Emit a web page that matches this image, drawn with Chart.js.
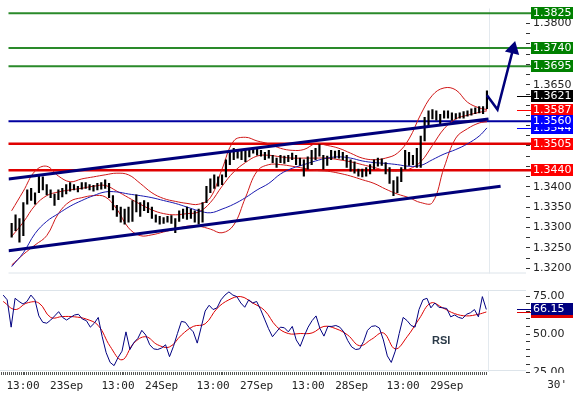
<!DOCTYPE html>
<html>
<head>
<meta charset="utf-8">
<script src="https://cdn.jsdelivr.net/npm/chart.js@4.4.1/dist/chart.umd.min.js"></script>
<style>
  html, body { margin: 0; padding: 0; background: #fff; overflow: hidden; }
  #pricePane { position: absolute; left: 0; top: 0; }
  #rsiPane { position: absolute; left: 0; top: 282px; }
</style>
</head>
<body>
<canvas id="pricePane" width="573" height="282"></canvas>
<canvas id="rsiPane" width="573" height="114"></canvas>
<script>
// EUR/USD 30' : barres, bandes de Bollinger, moyenne mobile, canal et RSI

// heures de cotation depuis le 22 sept. 00:00 (week-end retiré), une barre par heure
const firstHour = 8;
const highs = [
  1.3310, 1.3331, 1.3322, 1.3361, 1.3392, 1.3396, 1.3385, 1.3429, 1.3424, 1.3405,
  1.3392, 1.3382, 1.3392, 1.3396, 1.3405, 1.3410, 1.3405, 1.3401, 1.3410, 1.3410,
  1.3405, 1.3403, 1.3408, 1.3410, 1.3417, 1.3408, 1.3378, 1.3354, 1.3350, 1.3345,
  1.3350, 1.3366, 1.3380, 1.3361, 1.3366, 1.3361, 1.3350, 1.3331, 1.3327, 1.3324,
  1.3327, 1.3329, 1.3322, 1.3341, 1.3345, 1.3350, 1.3345, 1.3341, 1.3345, 1.3361,
  1.3401, 1.3419, 1.3429, 1.3424, 1.3429, 1.3466, 1.3489, 1.3494, 1.3489, 1.3487,
  1.3489, 1.3489, 1.3496, 1.3494, 1.3489, 1.3484, 1.3489, 1.3477, 1.3470, 1.3477,
  1.3475, 1.3477, 1.3482, 1.3477, 1.3470, 1.3466, 1.3473, 1.3489, 1.3494, 1.3503,
  1.3477, 1.3475, 1.3489, 1.3487, 1.3489, 1.3484, 1.3477, 1.3466, 1.3461, 1.3443,
  1.3443, 1.3447, 1.3454, 1.3466, 1.3470, 1.3468, 1.3459, 1.3447, 1.3415, 1.3424,
  1.3447, 1.3489, 1.3484, 1.3477, 1.3494, 1.3524, 1.3570, 1.3586, 1.3589, 1.3586,
  1.3577, 1.3586, 1.3586, 1.3581, 1.3579, 1.3581, 1.3584, 1.3586, 1.3591, 1.3593,
  1.3596, 1.3596, 1.3635
];
const lows = [
  1.3276, 1.3292, 1.3264, 1.3280, 1.3357, 1.3366, 1.3357, 1.3385, 1.3392, 1.3380,
  1.3373, 1.3354, 1.3368, 1.3375, 1.3382, 1.3389, 1.3392, 1.3387, 1.3394, 1.3396,
  1.3392, 1.3389, 1.3392, 1.3394, 1.3396, 1.3373, 1.3343, 1.3327, 1.3313, 1.3308,
  1.3313, 1.3315, 1.3338, 1.3327, 1.3341, 1.3336, 1.3322, 1.3313, 1.3308, 1.3310,
  1.3313, 1.3310, 1.3287, 1.3315, 1.3322, 1.3320, 1.3322, 1.3313, 1.3308, 1.3313,
  1.3361, 1.3385, 1.3396, 1.3401, 1.3405, 1.3424, 1.3454, 1.3466, 1.3470, 1.3466,
  1.3461, 1.3473, 1.3482, 1.3477, 1.3475, 1.3466, 1.3470, 1.3459, 1.3447, 1.3459,
  1.3457, 1.3461, 1.3466, 1.3454, 1.3452, 1.3426, 1.3443, 1.3454, 1.3466, 1.3475,
  1.3443, 1.3452, 1.3466, 1.3470, 1.3470, 1.3466, 1.3447, 1.3438, 1.3433, 1.3426,
  1.3424, 1.3426, 1.3431, 1.3443, 1.3450, 1.3452, 1.3431, 1.3408, 1.3378, 1.3385,
  1.3412, 1.3443, 1.3452, 1.3454, 1.3447, 1.3447, 1.3512, 1.3547, 1.3566, 1.3563,
  1.3554, 1.3568, 1.3568, 1.3563, 1.3566, 1.3568, 1.3568, 1.3573, 1.3575, 1.3579,
  1.3581, 1.3579, 1.3591
];

// bandes relevées toutes les 3 heures
const bandHours = [8, 11, 14, 17, 20, 23, 26, 29, 32, 35, 38, 41, 44, 47, 50, 53, 56, 59, 62, 65, 68,
  71, 74, 77, 80, 83, 86, 89, 92, 95, 98, 101, 104, 107, 110, 113, 116, 119, 122, 125, 128, 130];
const bbUpper = [1.3341, 1.3389, 1.3438, 1.3450, 1.3426, 1.3412, 1.3419, 1.3424, 1.3429, 1.3433, 1.3429,
  1.3408, 1.3385, 1.3371, 1.3364, 1.3359, 1.3357, 1.3373, 1.3443, 1.3512, 1.3521, 1.3512, 1.3505, 1.3494,
  1.3489, 1.3491, 1.3505, 1.3501, 1.3494, 1.3482, 1.3470, 1.3466, 1.3470, 1.3482, 1.3517, 1.3577, 1.3624,
  1.3642, 1.3637, 1.3607, 1.3593, 1.3589];
const bbMiddle = [1.3278, 1.3313, 1.3354, 1.3378, 1.3387, 1.3392, 1.3396, 1.3401, 1.3403, 1.3389, 1.3373,
  1.3357, 1.3343, 1.3334, 1.3331, 1.3334, 1.3338, 1.3361, 1.3401, 1.3436, 1.3459, 1.3475, 1.3477, 1.3473,
  1.3470, 1.3470, 1.3470, 1.3470, 1.3466, 1.3461, 1.3454, 1.3447, 1.3440, 1.3438, 1.3443, 1.3461, 1.3501,
  1.3542, 1.3566, 1.3575, 1.3582, 1.3586];
const bbLower = [1.3208, 1.3234, 1.3257, 1.3280, 1.3334, 1.3364, 1.3373, 1.3378, 1.3375, 1.3345, 1.3299,
  1.3280, 1.3282, 1.3289, 1.3296, 1.3303, 1.3303, 1.3296, 1.3287, 1.3306, 1.3373, 1.3438, 1.3454, 1.3454,
  1.3450, 1.3445, 1.3440, 1.3438, 1.3433, 1.3426, 1.3417, 1.3408, 1.3394, 1.3382, 1.3373, 1.3361, 1.3361,
  1.3447, 1.3519, 1.3542, 1.3556, 1.3559];
const movingAvg = [1.3204, 1.3238, 1.3285, 1.3315, 1.3334, 1.3352, 1.3366, 1.3378, 1.3387, 1.3387, 1.3382,
  1.3378, 1.3373, 1.3366, 1.3359, 1.3350, 1.3341, 1.3336, 1.3345, 1.3357, 1.3373, 1.3392, 1.3408, 1.3431,
  1.3445, 1.3454, 1.3463, 1.3470, 1.3473, 1.3470, 1.3463, 1.3459, 1.3457, 1.3454, 1.3450, 1.3452, 1.3466,
  1.3480, 1.3491, 1.3505, 1.3524, 1.3544];

// RSI par heure, signal toutes les 3 heures
const rsiValues = [
  75.6, 72.5, 54.5, 73.5, 71.4, 69.7, 71.4, 75.6, 72.5, 61.9,
  57.7, 57.1, 59.2, 61.9, 64.7, 60.9, 59.2, 60.9, 62.5, 63.0,
  59.8, 58.8, 54.5, 57.1, 60.9, 48.2, 37.7, 31.3, 29.2, 34.5,
  38.7, 51.4, 39.8, 44.4, 47.1, 52.4, 49.3, 42.9, 40.2, 39.8,
  40.8, 42.9, 35.1, 41.9, 50.3, 58.3, 57.7, 54.1, 51.4, 44.0,
  54.5, 65.1, 68.9, 66.1, 67.2, 72.5, 75.6, 77.7, 75.6, 74.6,
  70.4, 67.6, 72.5, 70.4, 71.4, 66.1, 59.8, 53.5, 48.2, 51.4,
  54.5, 54.1, 51.4, 55.0, 46.1, 41.9, 48.6, 54.5, 58.8, 61.9,
  53.5, 48.6, 55.0, 55.0, 55.6, 54.5, 51.4, 45.7, 41.5, 39.8,
  40.2, 45.0, 52.4, 55.0, 55.4, 53.9, 46.1, 35.6, 31.3, 38.7,
  50.3, 60.9, 58.8, 55.6, 54.5, 66.1, 72.5, 73.5, 67.2, 70.4,
  67.6, 67.2, 66.8, 61.3, 62.5, 60.9, 60.2, 63.0, 64.0, 66.1,
  61.3, 74.6, 66.15
];
const rsiSignal = [71.4, 66.1, 70.4, 70.4, 60.9, 61.5, 61.3, 59.8, 55.6, 41.9, 33.0, 44.0, 48.2, 42.9,
  41.5, 49.3, 55.0, 56.7, 66.8, 72.5, 74.6, 70.4, 65.5, 55.0, 50.3, 50.3, 50.7, 55.0, 53.5, 49.3, 42.3,
  46.5, 50.7, 40.2, 48.2, 59.8, 70.4, 67.2, 63.4, 61.9, 63.0, 64.5];

// canal et flèche d'objectif : [heure, prix]
const channelTop = [[7.2, 1.3419], [130.4, 1.3566]];
const channelBottom = [[7.2, 1.3243], [133.5, 1.3401]];
const targetPath = [[130, 1.3624], [132.7, 1.3589], [136.7, 1.3737]];

// niveaux
const resistances = [1.3825, 1.3740, 1.3695];
const pivot = 1.3560;
const supports = [1.3505, 1.3440];
const priceTags = [1.3825, 1.3740, 1.3695, 1.3621, 1.3587, 1.3544, 1.3560, 1.3505, 1.3440];

const timeTicks = [13, 24, 37, 48, 61, 72, 85, 96, 109, 120];
const timeLabels = ['13:00', '23Sep', '13:00', '24Sep', '13:00', '27Sep', '13:00', '28Sep', '13:00', '29Sep'];

// styles des étiquettes (même ordre que priceTags)
const tagColors = ['#008000', '#008000', '#008000', '#000000', '#ff0000', '#0000ff', '#0000ff', '#ff0000', '#ff0000'];
const tagLeads = [false, false, false, true, true, true, false, false, false];

const NAVY = '#00007a';
const AXIS_W = 47;
const xMin = 7.19, xMax = 140.02;
const lastHour = firstHour + highs.length - 1;

Chart.defaults.font.family = '"DejaVu Sans", Verdana, sans-serif';
Chart.defaults.font.size = 11;
Chart.defaults.color = '#222';

const barHours = highs.map((_, i) => firstHour + i);
function pts(xs, ys) { return xs.map((x, i) => ({ x: x, y: ys[i] })); }
function pairs(list) { return list.map(p => ({ x: p[0], y: p[1] })); }

function drawTag(ctx, area, y, text, color, lead) {
    const yy = Math.round(y);
    if (lead) {
        ctx.strokeStyle = color;
        ctx.lineWidth = 1;
        ctx.beginPath();
        ctx.moveTo(area.right - 9, yy + 0.5);
        ctx.lineTo(area.right + 5, yy + 0.5);
        ctx.stroke();
    }
    ctx.fillStyle = color;
    ctx.fillRect(area.right + 5, yy - 6, AXIS_W - 5, 12);
    ctx.fillStyle = '#fff';
    ctx.font = '11px "DejaVu Sans"';
    ctx.textAlign = 'left';
    ctx.textBaseline = 'middle';
    ctx.fillText(text, area.right + 7, yy + 0.5);
}

function hLine(ctx, x1, x2, y, color, width) {
    ctx.strokeStyle = color;
    ctx.lineWidth = width;
    ctx.beginPath();
    ctx.moveTo(x1, y);
    ctx.lineTo(x2, y);
    ctx.stroke();
}

// lignes horizontales derrière les barres
const levelLines = {
    id: 'levelLines',
    beforeDatasetsDraw(chart) {
        const { ctx, chartArea: a, scales: { x, y } } = chart;
        ctx.save();
        hLine(ctx, a.left, a.right, a.bottom - 0.5, '#dde4ea', 1);
        const xe = Math.round(x.getPixelForValue(lastHour + 0.5)) + 0.5;
        ctx.strokeStyle = '#e3e9ee';
        ctx.lineWidth = 1;
        ctx.beginPath(); ctx.moveTo(xe, a.top); ctx.lineTo(xe, a.bottom); ctx.stroke();
        resistances.forEach(v => hLine(ctx, a.left, a.right + 5, y.getPixelForValue(v), '#2a8a2a', 2));
        hLine(ctx, a.left, a.right + 5, y.getPixelForValue(pivot), '#0000a0', 2);
        supports.forEach(v => hLine(ctx, a.left, a.right + 5, y.getPixelForValue(v), '#e00000', 2.5));
        ctx.restore();
    },
    afterDraw(chart) {
        const { ctx, chartArea: a, scales: { y } } = chart;
        ctx.save();
        priceTags.forEach((v, i) => drawTag(ctx, a, y.getPixelForValue(v), v.toFixed(4), tagColors[i], tagLeads[i]));
        ctx.restore();
    }
};

const priceGrid = [];
for (let k = 13200; k <= 13825; k += 25) priceGrid.push(k / 10000);

function lineSet(data, color, width, order, tension) {
    return { type: 'line', data: data, borderColor: color, borderWidth: width, pointRadius: 0,
             tension: tension, order: order, fill: false };
}

new Chart(document.getElementById('pricePane'), {
    type: 'line',
    data: {
        datasets: [
            lineSet(pts(bandHours, bbUpper), '#d01818', 1, 5, 0.4),
            lineSet(pts(bandHours, bbMiddle), '#d01818', 1, 5, 0.4),
            lineSet(pts(bandHours, bbLower), '#d01818', 1, 5, 0.4),
            lineSet(pts(bandHours, movingAvg), '#1a1ab0', 1, 4, 0.4),
            {
                type: 'bar',
                data: barHours.map((h, i) => ({ x: h, y: [lows[i], highs[i]] })),
                backgroundColor: '#000',
                barThickness: 1.5,
                order: 3
            },
            lineSet(pairs(channelTop), NAVY, 3, 1, 0),
            lineSet(pairs(channelBottom), NAVY, 3, 1, 0),
            {
                type: 'line',
                data: pairs(targetPath),
                borderColor: NAVY,
                borderWidth: 2.5,
                pointStyle: 'triangle',
                pointRadius: [0, 0, 6],
                pointRotation: [0, 0, 14],
                pointBackgroundColor: NAVY,
                pointBorderColor: NAVY,
                order: 0
            }
        ]
    },
    options: {
        responsive: false,
        animation: false,
        events: [],
        layout: { padding: { top: 0, bottom: 2, left: 0, right: 0 } },
        plugins: { legend: { display: false }, tooltip: { enabled: false } },
        scales: {
            x: { type: 'linear', min: xMin, max: xMax, offset: false, display: false },
            y: {
                position: 'right',
                min: 1.31872,
                max: 1.38366,
                afterBuildTicks: s => { s.ticks = priceGrid.map(v => ({ value: v })); },
                afterFit: s => { s.width = AXIS_W; s.paddingTop = 0; s.paddingBottom = 0; },
                grid: { drawOnChartArea: false, drawTicks: true, tickLength: 4, tickColor: '#333' },
                border: { display: false },
                ticks: {
                    padding: 3,
                    autoSkip: false,
                    callback: v => {
                        if (Math.round(v * 10000) % 50 !== 0) return '';
                        if (priceTags.some(t => Math.abs(t - v) < 0.0015)) return '';
                        return v.toFixed(4);
                    }
                }
            }
        }
    },
    plugins: [levelLines]
});

const halfHours = [];
for (let k = 15; k <= lastHour * 2; k++) halfHours.push(k / 2);

const rsiDecor = {
    id: 'rsiDecor',
    beforeDatasetsDraw(chart) {
        const { ctx, chartArea: a, scales: { x } } = chart;
        ctx.save();
        hLine(ctx, a.left, a.right, a.top + 0.5, '#dde4ea', 1);
        hLine(ctx, a.left, a.right, a.bottom - 1.5, '#dde4ea', 1);
        const xe = Math.round(x.getPixelForValue(lastHour + 0.5)) + 0.5;
        ctx.strokeStyle = '#e3e9ee';
        ctx.lineWidth = 1;
        ctx.beginPath(); ctx.moveTo(xe, a.top); ctx.lineTo(xe, a.bottom); ctx.stroke();
        ctx.restore();
    },
    afterDraw(chart) {
        const { ctx, chartArea: a, scales: { x, y } } = chart;
        ctx.save();
        // le libellé 25.00 est coupé en bas dans l'original
        ctx.fillStyle = '#fff';
        ctx.fillRect(a.right + 1, a.bottom + 1, AXIS_W, 9);
        const sig = rsiSignal[rsiSignal.length - 1];
        const last = rsiValues[rsiValues.length - 1];
        drawTag(ctx, a, y.getPixelForValue(sig), sig.toFixed(2), '#e00000', true);
        drawTag(ctx, a, y.getPixelForValue(last), last.toFixed(2), '#000080', true);
        ctx.fillStyle = '#2b3a48';
        ctx.font = 'bold 11px "Liberation Sans", Arial, sans-serif';
        ctx.textAlign = 'center';
        ctx.textBaseline = 'middle';
        ctx.fillText('RSI', x.getPixelForValue(118.6), y.getPixelForValue(45.4));
        ctx.fillStyle = '#222';
        ctx.font = '11px "DejaVu Sans Mono", monospace';
        ctx.textAlign = 'right';
        ctx.textBaseline = 'top';
        ctx.fillText("30'", chart.width - 6, a.bottom + 8);
        ctx.restore();
    }
};

new Chart(document.getElementById('rsiPane'), {
    type: 'line',
    data: {
        datasets: [
            lineSet(pts(bandHours, rsiSignal), '#dd0000', 1, 2, 0.4),
            lineSet(pts(barHours, rsiValues), '#000080', 1, 1, 0)
        ]
    },
    options: {
        responsive: false,
        animation: false,
        events: [],
        layout: { padding: { top: 8, bottom: 0, left: 0, right: 0 } },
        plugins: { legend: { display: false }, tooltip: { enabled: false } },
        scales: {
            x: {
                type: 'linear',
                min: xMin,
                max: xMax,
                offset: false,
                afterBuildTicks: s => { s.ticks = halfHours.map(v => ({ value: v })); },
                afterFit: s => { s.height = 24; s.paddingLeft = 0; s.paddingRight = 0; },
                grid: { drawOnChartArea: false, drawTicks: true, tickLength: 3, tickColor: '#555' },
                border: { display: false },
                ticks: {
                    autoSkip: false,
                    maxRotation: 0,
                    padding: 5,
                    font: { family: '"DejaVu Sans Mono", monospace', size: 11 },
                    callback: v => {
                        const i = timeTicks.indexOf(v);
                        return i >= 0 ? timeLabels[i] : '';
                    }
                }
            },
            y: {
                position: 'right',
                min: 25,
                max: 78.95,
                afterBuildTicks: s => { s.ticks = [25, 30, 35, 40, 45, 50, 55, 60, 65, 70, 75].map(v => ({ value: v })); },
                afterFit: s => { s.width = AXIS_W; s.paddingTop = 0; s.paddingBottom = 0; },
                grid: { drawOnChartArea: false, drawTicks: true, tickLength: 4, tickColor: '#333' },
                border: { display: false },
                ticks: {
                    padding: 3,
                    autoSkip: false,
                    callback: v => (v % 25 === 0 ? v.toFixed(2) : '')
                }
            }
        }
    },
    plugins: [rsiDecor]
});
</script>
</body>
</html>
